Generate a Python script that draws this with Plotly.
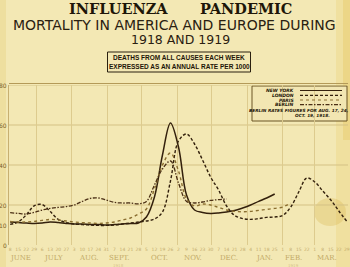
import plotly.graph_objects as go

week_dates = ["1918-06-08", "1918-06-15", "1918-06-22", "1918-06-29", "1918-07-06", "1918-07-13",
              "1918-07-20", "1918-07-27", "1918-08-03", "1918-08-10", "1918-08-17", "1918-08-24",
              "1918-08-31", "1918-09-07", "1918-09-14", "1918-09-21", "1918-09-28", "1918-10-05",
              "1918-10-12", "1918-10-19", "1918-10-26", "1918-11-02", "1918-11-09", "1918-11-16",
              "1918-11-23", "1918-11-30", "1918-12-07", "1918-12-14", "1918-12-21", "1918-12-28",
              "1919-01-04", "1919-01-11", "1919-01-18", "1919-01-25", "1919-02-01", "1919-02-08",
              "1919-02-15", "1919-02-22", "1919-03-01", "1919-03-08", "1919-03-15", "1919-03-22",
              "1919-03-29"]
week_labels = ["8", "15", "22", "29", "6", "13", "20", "27", "3", "10", "17", "24", "31", "7", "14",
               "21", "28", "5", "12", "19", "26", "2", "9", "16", "23", "30", "7", "14", "21", "28",
               "4", "11", "18", "25", "1", "8", "15", "22", "1", "8", "15", "22", "29"]

new_york = [11.5, 11.2, 11.0, 10.8, 11.0, 11.5, 11.2, 10.8, 10.5, 10.5, 10.3, 10.2, 10.0, 10.2,
            10.5, 10.8, 11.0, 14.0, 24.0, 45.0, 61.0, 49.0, 25.0, 17.5, 16.3, 15.8, 16.0, 16.5,
            17.2, 18.5, 20.0, 21.8, 23.5, 25.5]
london = [10.3, 11.5, 15.0, 19.6, 20.2, 16.7, 12.8, 11.2, 10.5, 10.2, 10.0, 9.8, 9.8, 10.0, 10.5,
          11.0, 11.5, 12.0, 13.0, 16.5, 32.0, 52.0, 55.5, 50.5, 42.5, 34.0, 27.5, 19.5, 14.8, 13.2,
          12.8, 13.2, 13.8, 14.0, 14.8, 19.0, 26.5, 33.5, 31.5, 27.0, 22.5, 17.0, 11.8]
paris = [11.8, 11.5, 11.5, 11.8, 12.3, 12.8, 12.5, 12.0, 11.5, 11.2, 11.0, 10.8, 11.0, 11.5, 12.5,
         13.5, 15.5, 18.0, 28.0, 40.0, 46.0, 37.0, 23.0, 19.5, 20.5, 20.0, 18.8, 17.5, 16.8, 16.6,
         16.8, 17.3, 17.8, 18.3, 19.0, 21.0]
berlin = [16.2, 15.8, 15.5, 16.3, 17.5, 18.3, 18.8, 19.2, 20.0, 21.8, 23.3, 23.5, 22.5, 21.3, 21.0,
          21.0, 20.6, 21.8, 30.0, 38.0, 42.0, 31.0, 21.8, 21.0, 21.5, 22.3, 22.7, 23.0]

month_names = ["JUNE", "JULY", "AUG.", "SEPT.", "OCT.", "NOV.", "DEC.", "JAN.", "FEB.", "MAR."]
month_label_dates = ["1918-06-17", "1918-07-16", "1918-08-16", "1918-09-11", "1918-10-16",
                     "1918-11-15", "1918-12-16", "1919-01-16", "1919-02-10", "1919-03-12"]
year_names = ["1918", "1919"]
year_label_dates = ["1918-09-11", "1919-02-10"]

y_ticks = [0, 10, 20, 40, 60, 80]
y_grid = [20, 40, 60, 80]

series = [
    ("NEW YORK", new_york, "#33200c", "solid", 1.5),
    ("LONDON", london, "#33200c", "3px,2px", 1.4),
    ("PARIS", paris, "#8a6e30", "dot", 1.4),
    ("BERLIN", berlin, "#4a2e14", "4px,1.5px,1.5px,1.5px", 1.3),
]

W, H = 350, 267
ML, MR, MT, MB = 9, 2, 85, 22
PW, PH = W - ML - MR, H - MT - MB


def px(x):
    return (x - ML) / PW


def py(y):
    return (H - MB - y) / PH


fig = go.Figure()
for name, vals, color, dash, width in series:
    fig.add_trace(go.Scatter(
        x=week_dates[:len(vals)], y=vals, mode="lines", name=name,
        line=dict(color=color, dash=dash, width=width, shape="spline", smoothing=1.0),
        showlegend=False, hoverinfo="skip"))

ink = "#1e1608"
ann = []
ann.append(dict(text="INFLUENZA", x=px(118), y=py(8.5), font=dict(family="DejaVu Serif", size=14.5, color=ink, weight="bold")))
ann.append(dict(text="PANDEMIC", x=px(246), y=py(8.5), font=dict(family="DejaVu Serif", size=14.5, color=ink, weight="bold")))
ann.append(dict(text="MORTALITY IN AMERICA AND EUROPE DURING", x=px(174), y=py(25),
                font=dict(family="DejaVu Sans", size=14, color="#2a2010")))
ann.append(dict(text="1918 AND 1919", x=px(180), y=py(39.5),
                font=dict(family="DejaVu Sans", size=12.5, color="#2a2010")))
ann.append(dict(text="DEATHS FROM ALL CAUSES EACH WEEK", x=px(179), y=py(57.5),
                font=dict(family="Liberation Sans", size=6.5, color=ink, weight="bold")))
ann.append(dict(text="EXPRESSED AS AN ANNUAL RATE PER 1000", x=px(179), y=py(66.5),
                font=dict(family="Liberation Sans", size=6.5, color=ink, weight="bold")))
for a in ann:
    a.update(xref="paper", yref="paper", showarrow=False, xanchor="center", yanchor="middle")

leg_rows = [90.5, 95.3, 100.0, 104.7]
leg_ann = []
leg_shapes = []
for (name, vals, color, dash, width), ry in zip(series, leg_rows):
    leg_ann.append(dict(text=name, x=px(296), y=py(ry), xref="paper", yref="paper", showarrow=False,
                        xanchor="right", yanchor="middle",
                        font=dict(family="DejaVu Sans", size=4.5, color=ink, style="italic", weight="bold")))
    leg_shapes.append(dict(type="line", xref="paper", yref="paper", x0=px(300), x1=px(342), y0=py(ry), y1=py(ry),
                           line=dict(color=color, dash=dash, width=1.2)))
leg_ann.append(dict(text="BERLIN RATES FIGURES FOR AUG. 17, 24,", x=px(299), y=py(110.7), xref="paper", yref="paper",
                    showarrow=False, xanchor="center", yanchor="middle",
                    font=dict(family="DejaVu Sans", size=4.3, color=ink, style="italic", weight="bold")))
leg_ann.append(dict(text="OCT. 19, 1918.", x=px(312), y=py(115.7), xref="paper", yref="paper",
                    showarrow=False, xanchor="center", yanchor="middle",
                    font=dict(family="DejaVu Sans", size=4.3, color=ink, style="italic", weight="bold")))

month_ann = [dict(text=m, x=d, y=py(257.5), xref="x", yref="paper", showarrow=False,
                  xanchor="center", yanchor="middle",
                  font=dict(family="DejaVu Serif", size=7, color="#c2a866"))
             for m, d in zip(month_names, month_label_dates)]
year_ann = [dict(text=t, x=d, y=py(265), xref="x", yref="paper", showarrow=False,
                 xanchor="center", yanchor="middle",
                 font=dict(family="DejaVu Serif", size=4, color="#d6c288"))
            for t, d in zip(year_names, year_label_dates)]
ytick_ann = [dict(text=str(v), x=px(8.5), y=v, xref="paper", yref="y", showarrow=False,
                  xanchor="right", yanchor="middle", xshift=0,
                  font=dict(family="DejaVu Sans", size=6, color="#7d6028"))
             for v in y_ticks]

shapes = [
    # aged paper tint along the edges
    dict(type="rect", xref="paper", yref="paper", x0=px(0), x1=px(6), y0=py(267), y1=py(0),
         fillcolor="#e3c96f", opacity=0.3, line_width=0, layer="below"),
    dict(type="rect", xref="paper", yref="paper", x0=px(336), x1=px(350), y0=py(267), y1=py(0),
         fillcolor="#e6c458", opacity=0.22, line_width=0, layer="below"),
    dict(type="rect", xref="paper", yref="paper", x0=px(343), x1=px(350), y0=py(140), y1=py(0),
         fillcolor="#e6c050", opacity=0.3, line_width=0, layer="below"),
    dict(type="circle", xref="paper", yref="paper", x0=px(314), x1=px(346), y0=py(226), y1=py(198),
         fillcolor="#d8b448", opacity=0.3, line_width=0, layer="below"),
    # title box and legend box
    dict(type="rect", xref="paper", yref="paper", x0=px(107.5), x1=px(250.5), y0=py(72), y1=py(52),
         line=dict(color="#2a2010", width=1)),
    dict(type="rect", xref="paper", yref="paper", x0=px(252), x1=px(347), y0=py(121), y1=py(86),
         line=dict(color="#6a5424", width=1), fillcolor="#f2e6b2", layer="below"),
    # top frame double line
    dict(type="line", xref="paper", yref="paper", x0=0, x1=1, y0=py(83.5), y1=py(83.5),
         line=dict(color="#b49a58", width=1)),
]
shapes += [dict(type="line", xref="paper", yref="y", x0=0, x1=1, y0=g, y1=g,
                line=dict(color="#d4c184", width=1), layer="below") for g in y_grid]
shapes += leg_shapes

fig.update_layout(
    width=W, height=H,
    margin=dict(l=ML, r=MR, t=MT, b=MB, autoexpand=False),
    paper_bgcolor="#f3e8b4", plot_bgcolor="rgba(0,0,0,0)",
    annotations=ann + leg_ann + month_ann + year_ann + ytick_ann,
    shapes=shapes,
    xaxis=dict(
        type="date", range=["1918-06-07", "1919-03-30"],
        tickmode="array", tickvals=week_dates, ticktext=week_labels, tickangle=0,
        tickfont=dict(family="DejaVu Sans", size=4.5, color="#c4ac6c"),
        showgrid=False, ticks="", ticklen=0, zeroline=False,
        showline=False,
        minor=dict(dtick="M1", tick0="1918-06-01", showgrid=True, gridcolor="#ddcb8e", gridwidth=1, ticks=""),
    ),
    yaxis=dict(
        range=[0, 80], showticklabels=False, showgrid=False, zeroline=False,
        showline=True, linecolor="#c8b070", linewidth=1, ticks="",
    ),
)

fig.write_html("out.html")
